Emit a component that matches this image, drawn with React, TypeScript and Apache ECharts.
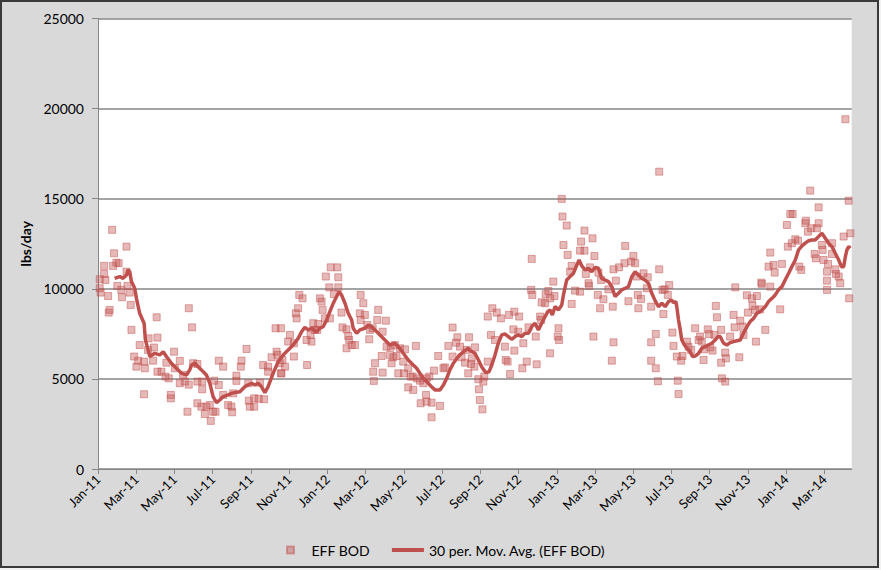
import React, { useEffect, useRef } from "react";
import * as echarts from "echarts";

// x = months since Jan-2011 (fractional), y = lbs/day
const tickLabels = [
  "Jan-11", "Mar-11", "May-11", "Jul-11", "Sep-11", "Nov-11",
  "Jan-12", "Mar-12", "May-12", "Jul-12", "Sep-12", "Nov-12",
  "Jan-13", "Mar-13", "May-13", "Jul-13", "Sep-13", "Nov-13",
  "Jan-14", "Mar-14",
];
const xMax = 39.43;

const bod2011: number[][] = [
  [0.09, 10530], [0.09, 10030], [0.14, 9790], [0.32, 11270], [0.32, 10820], [0.39, 10490],
  [0.53, 9600], [0.56, 8680], [0.61, 8830], [0.74, 13270], [0.79, 11270], [0.84, 11970],
  [0.96, 11450], [1.01, 10160], [1.08, 11420], [1.22, 9940], [1.26, 9530], [1.49, 12340],
  [1.49, 10950], [1.54, 10160], [1.66, 9790], [1.71, 9100], [1.75, 7720], [1.89, 6240],
  [2.01, 5680], [2.1, 6010], [2.18, 6880], [2.41, 5960], [2.41, 4150], [2.45, 5590],
  [2.62, 6610], [2.65, 7250], [2.88, 6010], [2.93, 6740], [3.07, 8420], [3.11, 7290],
  [3.11, 5400], [3.32, 5400], [3.53, 5130], [3.58, 5900], [3.7, 5030], [3.81, 4110],
  [3.81, 3920], [3.98, 6510], [4.02, 5590], [4.28, 6000], [4.28, 4760], [4.45, 5220],
  [4.54, 4850], [4.68, 3180], [4.75, 8920], [4.75, 4680], [4.92, 7860], [4.98, 5870],
  [5.2, 5830], [5.2, 4850], [5.2, 3650], [5.41, 3460], [5.45, 4850], [5.45, 4420],
  [5.59, 3050], [5.67, 3460], [5.85, 3550], [5.9, 2670], [6.02, 3180], [6.08, 4900],
  [6.15, 3180], [6.32, 4660], [6.32, 6010], [6.55, 5680], [6.55, 4110], [6.81, 3550],
  [6.98, 3460], [7.02, 3150], [7.07, 4200], [7.24, 5180], [7.24, 4890], [7.47, 5680],
  [7.51, 6010], [7.77, 6660], [7.86, 4760], [7.89, 3790], [7.94, 3460], [8.17, 3460],
  [8.17, 3920], [8.41, 3900], [8.47, 4790], [8.64, 5770], [8.69, 3870], [8.9, 5680],
  [8.9, 5400], [9.08, 6200], [9.29, 7810], [9.34, 6510], [9.39, 6330], [9.51, 5870],
  [9.57, 5310], [9.57, 7810], [9.6, 5310], [9.65, 6050], [9.78, 5680], [9.95, 7070],
  [10.04, 7440], [10.25, 6980], [10.25, 6240], [10.35, 8640], [10.39, 8360], [10.47, 8920],
  [10.53, 9660], [10.7, 9470], [10.91, 7160], [10.94, 5770], [11.12, 7440], [11.17, 7070],
  [11.26, 8090], [11.35, 7720], [11.47, 7720], [11.52, 8050], [11.61, 9470], [11.7, 9290],
  [11.75, 8830], [11.87, 8360], [11.92, 10680],
];

const bod2012: number[][] = [
  [12.1, 10080], [12.13, 8360], [12.17, 11190], [12.34, 9710], [12.52, 11190], [12.57, 10640],
  [12.57, 10080], [12.74, 8680], [12.79, 7860], [13.0, 7750], [13.0, 6700], [13.09, 7380],
  [13.14, 7160], [13.27, 6880], [13.44, 6880], [13.7, 8640], [13.74, 9660], [13.74, 8270],
  [13.88, 9200], [13.96, 8550], [14.09, 7990], [14.19, 7200], [14.23, 7720], [14.37, 7810],
  [14.4, 5400], [14.43, 4890], [14.49, 5870], [14.61, 8270], [14.66, 8830], [14.84, 6270],
  [14.89, 7620], [14.89, 5350], [15.06, 8230], [15.1, 6790], [15.27, 6330], [15.31, 6790],
  [15.36, 5870], [15.45, 6200], [15.53, 6880], [15.62, 6270], [15.71, 5310], [15.8, 6700],
  [15.97, 5960], [16.01, 5310], [16.06, 6640], [16.23, 5590], [16.23, 4530], [16.35, 5130],
  [16.46, 5130], [16.49, 4390], [16.63, 6830], [16.7, 5030], [16.84, 4900], [16.88, 3650],
  [17.02, 4760], [17.16, 4110], [17.19, 5030], [17.19, 3740], [17.33, 5130], [17.45, 3680],
  [17.45, 2870], [17.58, 5460], [17.8, 6270], [17.89, 3500], [18.07, 5590], [18.15, 5640],
  [18.33, 6830], [18.55, 7850], [18.55, 6240], [18.73, 7010], [18.8, 7310], [18.94, 6790],
  [19.02, 6200], [19.2, 5900], [19.29, 6610], [19.37, 5310], [19.41, 7310], [19.51, 5830],
  [19.55, 6140], [19.69, 5680], [19.72, 6750], [19.9, 4980], [19.93, 4420], [19.98, 3830],
  [20.11, 3310], [20.16, 4850], [20.21, 5130], [20.39, 5960], [20.39, 8460], [20.56, 7440],
  [20.63, 8920], [20.77, 7160], [20.86, 8680], [21.08, 8360], [21.29, 6790], [21.33, 6050],
  [21.43, 5960], [21.5, 8550], [21.56, 5270], [21.73, 7750], [21.78, 8730], [21.78, 6570],
  [21.99, 7620], [22.03, 8460], [22.2, 5590], [22.25, 6980], [22.43, 5960], [22.52, 7860],
  [22.66, 9940], [22.69, 11660], [22.72, 9660], [22.9, 7350], [22.95, 5810], [23.13, 8460],
  [23.18, 8270], [23.21, 9250], [23.39, 9200], [23.42, 9700], [23.56, 9880], [23.65, 9470],
  [23.65, 6420], [23.82, 10400], [23.88, 9600],
];

const bod2013: number[][] = [
  [24.05, 7350], [24.09, 7810], [24.12, 7160], [24.26, 14990], [24.3, 14010], [24.35, 12430],
  [24.52, 13510], [24.57, 11880], [24.7, 10950], [24.78, 11270], [24.78, 9160], [24.96, 9900],
  [25.22, 12120], [25.22, 9840], [25.27, 12620], [25.45, 13230], [25.45, 12120], [25.52, 10820],
  [25.66, 10310], [25.69, 10160], [25.74, 11190], [25.87, 12800], [25.92, 7350], [25.97, 11820],
  [26.15, 9660], [26.18, 10900], [26.27, 8920], [26.32, 10490], [26.44, 9420], [26.7, 9970],
  [26.88, 6010], [26.93, 9010], [26.97, 11080], [26.97, 7030], [27.09, 10450], [27.26, 11190],
  [27.54, 11420], [27.58, 12380], [27.75, 9310], [27.89, 11510], [28.01, 11820], [28.1, 11420],
  [28.19, 10680], [28.24, 9660], [28.27, 8920], [28.41, 9440], [28.54, 10860], [28.71, 10030],
  [28.76, 10640], [28.94, 9010], [28.94, 7030], [28.94, 6010], [29.18, 7490], [29.18, 5590],
  [29.29, 4870], [29.36, 11080], [29.36, 16500], [29.53, 9940], [29.58, 8600], [29.64, 9970],
  [29.81, 9660], [29.88, 10210], [30.05, 7570], [30.11, 6830], [30.28, 6240], [30.33, 4900],
  [30.37, 4160], [30.51, 6010], [30.58, 6270], [30.81, 7070], [30.89, 6790], [31.03, 6610],
  [31.24, 7810], [31.42, 7160], [31.5, 7350], [31.59, 7070], [31.68, 6050], [31.73, 6640],
  [31.9, 7750], [31.97, 7490], [32.03, 6750], [32.15, 6570], [32.25, 7440], [32.32, 9050],
  [32.38, 8420], [32.6, 7720], [32.6, 5900], [32.64, 5030], [32.81, 4850], [32.81, 6460],
  [32.85, 6140], [33.07, 7350], [33.25, 8550], [33.3, 7860], [33.34, 10080], [33.55, 6200],
  [33.6, 8230], [33.72, 7900], [33.77, 7440], [33.95, 9640], [34.0, 8680], [34.21, 9470],
  [34.24, 9050], [34.38, 8830], [34.42, 7070], [34.47, 9600], [34.64, 8860], [34.7, 10340],
  [34.73, 10270], [34.91, 7720], [35.08, 11230], [35.17, 12010], [35.17, 10120], [35.34, 11320],
  [35.4, 10900], [35.69, 8860], [35.78, 11380],
];

const bod2014: number[][] = [
  [36.04, 13540], [36.09, 12340], [36.22, 14150], [36.3, 12530], [36.34, 14150], [36.48, 12750],
  [36.62, 12670], [36.69, 11230], [36.79, 11050], [37.0, 13640], [37.04, 13780], [37.14, 13170],
  [37.26, 15450], [37.31, 13360], [37.49, 11930], [37.56, 11690], [37.61, 13360], [37.7, 14520],
  [37.7, 13640], [37.87, 12430], [37.91, 12160], [37.96, 11600], [38.14, 10950], [38.14, 10450],
  [38.14, 9940], [38.19, 11380], [38.4, 12530], [38.4, 11930], [38.57, 11080], [38.61, 10820],
  [38.75, 10680], [38.83, 10310], [39.01, 12900], [39.1, 19410], [39.27, 14890], [39.3, 9470],
  [39.36, 13080],
];

const avg2011: number[][] = [
  [0.87, 10580], [1.14, 10680], [1.31, 10580], [1.49, 10770], [1.57, 11050], [1.66, 10950],
  [1.75, 10400], [1.92, 10030], [2.01, 9470], [2.18, 8640], [2.41, 8090], [2.48, 7160],
  [2.62, 6610], [2.71, 6240], [2.97, 6420], [3.23, 6330], [3.41, 6510], [3.58, 6240],
  [3.84, 5870], [4.1, 5590], [4.37, 5310], [4.63, 5220], [4.8, 5500], [4.89, 5770],
  [5.06, 5870], [5.24, 5680], [5.41, 5500], [5.67, 5220], [5.85, 4760], [6.02, 4020],
  [6.2, 3680], [6.37, 3830], [6.55, 4020], [6.81, 4110], [6.98, 4200], [7.16, 4240],
  [7.42, 4290], [7.68, 4570], [8.03, 4760], [8.2, 4660], [8.38, 4760], [8.55, 4570],
  [8.73, 4240], [8.9, 4570], [9.16, 5310], [9.43, 5960], [9.69, 6330], [9.95, 6610],
  [10.21, 6880], [10.47, 7250], [10.65, 7620], [10.82, 7860], [11.0, 7720], [11.17, 7810],
  [11.43, 7620], [11.61, 7810], [11.78, 7900],
];

const avg2012: number[][] = [
  [11.96, 8270], [12.13, 8730], [12.31, 9200], [12.48, 9570], [12.62, 9840], [12.74, 9660],
  [12.92, 9200], [13.09, 8640], [13.27, 8270], [13.35, 7810], [13.53, 7530], [13.7, 7720],
  [13.96, 7810], [14.14, 7990], [14.31, 7900], [14.49, 7720], [14.75, 7440], [15.01, 7160],
  [15.27, 6880], [15.53, 6980], [15.71, 6790], [15.97, 6420], [16.23, 6050], [16.49, 5770],
  [16.67, 5590], [16.84, 5310], [17.02, 5030], [17.19, 4850], [17.45, 4570], [17.63, 4390],
  [17.89, 4390], [18.07, 4660], [18.24, 5030], [18.41, 5500], [18.59, 5870], [18.85, 6240],
  [19.11, 6510], [19.37, 6700], [19.46, 6570], [19.72, 6420], [19.9, 6050], [20.07, 5680],
  [20.28, 5350], [20.46, 5400], [20.6, 5770], [20.77, 6330], [20.94, 6980], [21.12, 7440],
  [21.29, 7490], [21.47, 7350], [21.64, 7200], [21.82, 7350], [21.99, 7440], [22.17, 7350],
  [22.34, 7530], [22.52, 7530], [22.69, 7900], [22.86, 8090], [23.04, 7720], [23.21, 8090],
  [23.39, 8460], [23.53, 8730], [23.65, 8830], [23.77, 8550],
];

const avg2013: number[][] = [
  [23.91, 9010], [24.09, 8830], [24.26, 9100], [24.35, 9660], [24.52, 10490], [24.7, 10680],
  [24.87, 10860], [25.05, 11320], [25.17, 11600], [25.31, 11270], [25.48, 11050], [25.66, 11140],
  [25.83, 10950], [26.01, 11190], [26.18, 11140], [26.35, 10580], [26.53, 10490], [26.7, 10400],
  [26.88, 10120], [27.05, 9570], [27.23, 9750], [27.4, 9940], [27.58, 10030], [27.75, 10120],
  [27.93, 10680], [28.1, 10950], [28.27, 10770], [28.45, 10580], [28.62, 10490], [28.8, 10310],
  [28.97, 9750], [29.15, 9330], [29.32, 9010], [29.5, 9200], [29.67, 9010], [29.85, 9290],
  [29.99, 9380], [30.11, 9230], [30.23, 9290], [30.28, 9010], [30.37, 8270], [30.46, 7720],
  [30.54, 7160], [30.68, 6880], [30.81, 6700], [30.98, 6510], [31.1, 6240], [31.24, 6270],
  [31.42, 6420], [31.59, 6700], [31.77, 6790], [31.94, 6880], [32.11, 6980], [32.29, 7160],
  [32.43, 7350], [32.55, 7350], [32.64, 7160], [32.73, 6980], [32.9, 6880], [33.07, 7010],
  [33.25, 7070], [33.42, 7120], [33.6, 7160], [33.77, 7530], [33.95, 7900], [34.12, 8180],
  [34.3, 8360], [34.47, 8640], [34.64, 8730], [34.91, 9010], [35.08, 9290], [35.26, 9470],
  [35.43, 9660], [35.6, 9940], [35.78, 10120], [35.95, 10490],
];

const avg2014: number[][] = [
  [36.13, 10860], [36.3, 11230], [36.48, 11600], [36.65, 12160], [36.83, 12380], [37.0, 12530],
  [37.18, 12670], [37.35, 12710], [37.52, 12710], [37.7, 12900], [37.87, 13080], [38.05, 12800],
  [38.22, 12530], [38.4, 12340], [38.57, 11970], [38.75, 11600], [38.89, 11230], [39.01, 11230],
  [39.1, 11790], [39.18, 12160], [39.27, 12340], [39.36, 12250],
];

const yMax = 25000;
const yInterval = 5000;

const FONT = "Lato, 'Open Sans', sans-serif";
const RED = "#c0504d";

export default function App() {
  const ref = useRef<HTMLDivElement>(null);

  useEffect(() => {
    if (!ref.current) return;
    const chart = echarts.init(ref.current, undefined, { renderer: "svg" });
    const scatterData = [...bod2011, ...bod2012, ...bod2013, ...bod2014];
    const avgData = [...avg2011, ...avg2012, ...avg2013, ...avg2014];
    const tickValues = tickLabels.map((_, i) => i * 2);

    chart.setOption({
      animation: false,
      backgroundColor: "#d9d9d9",
      textStyle: { fontFamily: FONT, color: "#000" },
      grid: {
        left: 98,
        top: 18.5,
        right: 879 - 851.7,
        bottom: 568 - 469,
        show: true,
        backgroundColor: "#ffffff",
        borderWidth: 0,
      },
      legend: {
        top: 538,
        left: 281,
        itemWidth: 32,
        itemHeight: 7,
        itemGap: 22,
        textStyle: { fontFamily: FONT, fontSize: 14, color: "#000" },
        data: [
          {
            name: "EFF BOD",
            icon: "path://M0,0h10v10h-10z",
          },
          {
            name: "30 per. Mov. Avg. (EFF BOD)",
            icon: "path://M0,0h32v4h-32z",
          },
        ],
      },
      xAxis: {
        type: "value",
        min: 0,
        max: xMax,
        splitLine: { show: false },
        axisLine: { show: true, lineStyle: { color: "#868686", width: 1 } },
        axisTick: {
          show: true,
          length: 5,
          customValues: tickValues,
          lineStyle: { color: "#868686" },
        },
        axisLabel: {
          customValues: tickValues,
          rotate: 45,
          margin: 8,
          fontFamily: FONT,
          fontSize: 13,
          color: "#000",
          formatter: (v: number) => tickLabels[Math.round(v / 2)] ?? "",
        },
      },
      yAxis: {
        type: "value",
        min: 0,
        max: yMax,
        interval: yInterval,
        name: "lbs/day",
        nameLocation: "middle",
        nameGap: 54,
        nameRotate: 90,
        nameTextStyle: { fontFamily: FONT, fontSize: 14, fontWeight: "bold", color: "#000" },
        axisLine: { show: true, lineStyle: { color: "#868686", width: 1 } },
        axisTick: { show: true, length: 6, lineStyle: { color: "#868686" } },
        splitLine: { show: true, lineStyle: { color: "#868686", width: 1.5 } },
        axisLabel: {
          margin: 14,
          fontFamily: FONT,
          fontSize: 14,
          color: "#000",
          formatter: (v: number) => String(v),
        },
      },
      series: [
        {
          name: "EFF BOD",
          type: "scatter",
          symbol: "rect",
          symbolSize: 7,
          data: scatterData,
          itemStyle: {
            color: "rgba(192,80,77,0.5)",
            borderColor: "rgba(192,80,77,0.6)",
            borderWidth: 1,
          },
          z: 2,
        },
        {
          name: "30 per. Mov. Avg. (EFF BOD)",
          type: "line",
          data: avgData,
          showSymbol: false,
          symbol: "none",
          lineStyle: { color: RED, width: 3.5 },
          itemStyle: { color: RED },
          z: 3,
        },
      ],
    });
    return () => chart.dispose();
  }, []);

  return (
    <div style={{ position: "fixed", left: 0, top: 0, width: 881, height: 570, background: "#f2f2f2" }}>
      <div ref={ref} style={{ position: "absolute", left: 0, top: 0, width: 879, height: 568 }} />
      <div
        style={{
          position: "absolute",
          left: 0,
          top: 0,
          width: 879,
          height: 568,
          border: "2px solid #3a3a3a",
          boxSizing: "border-box",
          pointerEvents: "none",
        }}
      />
    </div>
  );
}
